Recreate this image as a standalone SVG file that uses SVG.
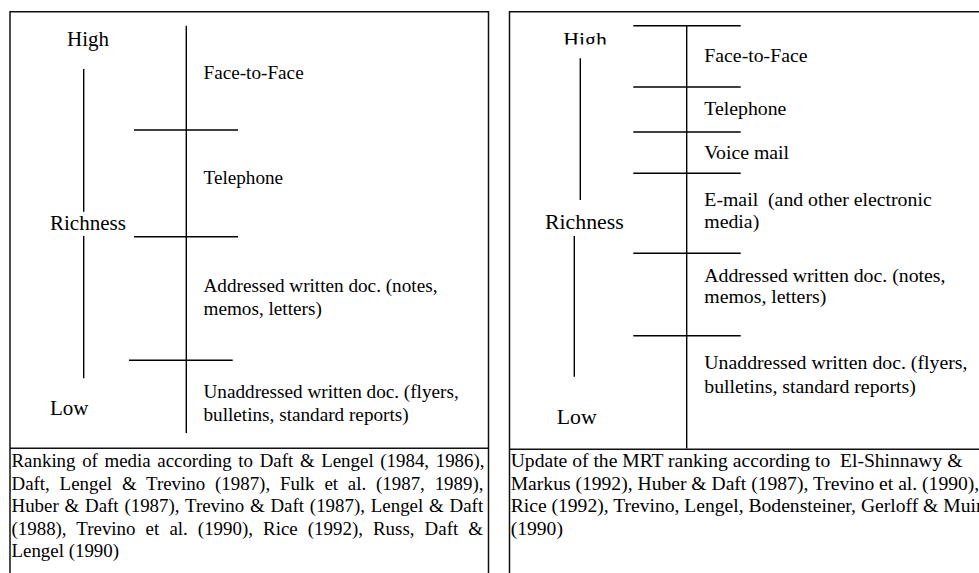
<svg xmlns="http://www.w3.org/2000/svg" width="979" height="573" viewBox="0 0 979 573">
  <style>
    .frame { fill: none; stroke: #111; stroke-width: 1.5; }
    .rule { stroke: #000; stroke-width: 1.4; fill: none; }
    text { font-family: "Liberation Serif", "Times New Roman", serif; fill: #000; }
    .axisL { font-size: 21px; }
    .itemL { font-size: 19.2px; }
    .capL { font-size: 18.9px; }
    .axisR { font-size: 21.8px; }
    .itemR { font-size: 19.8px; }
    .capR { font-size: 19.6px; }
  </style>
  <defs>
    <clipPath id="highClip">
      <rect x="540" y="20" width="90" height="24.5"/>
    </clipPath>
  </defs>
  <rect width="979" height="573" fill="#fff"/>

  <!-- Classic media richness ranking -->
  <g id="panel-classic">
    <g id="frame-classic">
      <path class="frame" d="M10 600 V11.7 H488.5 V600"/>
      <line class="frame" x1="10" y1="448.3" x2="488.5" y2="448.3"/>
    </g>
    <g id="axis-classic">
      <text class="axisL" x="67" y="46">High</text>
      <line class="rule" x1="83.7" y1="69" x2="83.7" y2="211.7"/>
      <text class="axisL" x="50" y="230">Richness</text>
      <line class="rule" x1="83.7" y1="236" x2="83.7" y2="378.3"/>
      <text class="axisL" x="50" y="415">Low</text>
    </g>
    <g id="scale-classic">
      <line class="rule" x1="186.3" y1="25.7" x2="186.3" y2="433"/>
      <line class="rule" x1="134" y1="130" x2="238" y2="130"/>
      <line class="rule" x1="134" y1="236.7" x2="238" y2="236.7"/>
      <line class="rule" x1="129" y1="360.3" x2="232.7" y2="360.3"/>
    </g>
    <g id="media-classic" class="itemL">
      <text x="203.5" y="79">Face-to-Face</text>
      <text x="203.5" y="184">Telephone</text>
      <text x="203.5" y="292">Addressed written doc. (notes,</text>
      <text x="203.5" y="315">memos, letters)</text>
      <text x="203.5" y="398.3">Unaddressed written doc. (flyers,</text>
      <text x="203.5" y="421">bulletins, standard reports)</text>
    </g>
    <g id="caption-classic" class="capL">
      <text x="11.5" y="467.3" word-spacing="1.9">Ranking of media according to Daft &amp; Lengel (1984, 1986),</text>
      <text x="11.5" y="489.6" word-spacing="5.1">Daft, Lengel &amp; Trevino (1987), Fulk et al. (1987, 1989),</text>
      <text x="11.5" y="512.3" word-spacing="1.1">Huber &amp; Daft (1987), Trevino &amp; Daft (1987), Lengel &amp; Daft</text>
      <text x="11.5" y="535" word-spacing="5.4">(1988), Trevino et al. (1990), Rice (1992), Russ, Daft &amp;</text>
      <text x="11.5" y="557.3">Lengel (1990)</text>
    </g>
  </g>

  <!-- Updated MRT ranking -->
  <g id="panel-update">
    <g id="frame-update">
      <path class="frame" d="M509.5 600 V11.7 H990"/>
      <line class="frame" x1="509.5" y1="449.3" x2="990" y2="449.3"/>
    </g>
    <g id="axis-update">
      <text class="axisR" x="563.3" y="47" clip-path="url(#highClip)">High</text>
      <line class="rule" x1="580.3" y1="58.3" x2="580.3" y2="200"/>
      <text class="axisR" x="545" y="229">Richness</text>
      <line class="rule" x1="574.3" y1="236" x2="574.3" y2="376.7"/>
      <text class="axisR" x="556.7" y="424.3">Low</text>
    </g>
    <g id="scale-update">
      <line class="rule" x1="686.7" y1="25.7" x2="686.7" y2="448.5"/>
      <line class="rule" x1="633.3" y1="25.7" x2="740.7" y2="25.7"/>
      <line class="rule" x1="633.3" y1="87" x2="740.7" y2="87"/>
      <line class="rule" x1="633.3" y1="132" x2="740.7" y2="132"/>
      <line class="rule" x1="633.3" y1="173.3" x2="740.7" y2="173.3"/>
      <line class="rule" x1="633.3" y1="253.3" x2="740.7" y2="253.3"/>
      <line class="rule" x1="633.3" y1="335.7" x2="740.7" y2="335.7"/>
    </g>
    <g id="media-update" class="itemR">
      <text x="704.3" y="61.7">Face-to-Face</text>
      <text x="704.3" y="115">Telephone</text>
      <text x="704.3" y="159">Voice mail</text>
      <text x="704.3" y="205.7" xml:space="preserve">E-mail  (and other electronic</text>
      <text x="704.3" y="228.3">media)</text>
      <text x="704.3" y="281.7">Addressed written doc. (notes,</text>
      <text x="704.3" y="303.3">memos, letters)</text>
      <text x="704.3" y="369.3">Unaddressed written doc. (flyers,</text>
      <text x="704.3" y="392.7">bulletins, standard reports)</text>
    </g>
    <g id="caption-update" class="capR">
      <text x="510.7" y="467.3" xml:space="preserve">Update of the MRT ranking according to  El-Shinnawy &amp;</text>
      <text x="510.7" y="489.7">Markus (1992), Huber &amp; Daft (1987), Trevino et al. (1990),</text>
      <text x="510.7" y="512.3">Rice (1992), Trevino, Lengel, Bodensteiner, Gerloff &amp; Muir</text>
      <text x="510.7" y="535">(1990)</text>
    </g>
  </g>
</svg>
